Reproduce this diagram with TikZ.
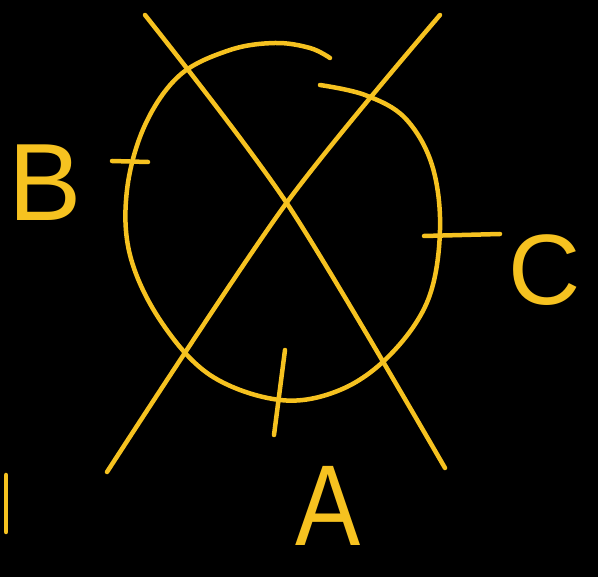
\documentclass[tikz,border=0pt]{standalone}
\usepackage{fontspec}
\setmainfont{Liberation Sans}
\definecolor{ink}{RGB}{246,194,32}
\begin{document}
\begin{tikzpicture}[x=1pt,y=-1pt,
  stroke/.style={draw=ink,line width=4.5pt,line cap=round,line join=round},
  letter/.style={text=ink,inner sep=0pt,font=\fontsize{#1}{#1}\selectfont}]
\fill[black] (0,0) rectangle (598,577);
\useasboundingbox (0,0) rectangle (598,577);
% circle (open near top right)
\draw[stroke] plot[smooth,tension=0.6] coordinates {
  (330,58) (310,48) (275,43) (230,50) (180,75) (145,125) (127,190) (130,255)
  (160,320) (210,375) (280,400) (340,390) (390,355) (428,300) (440,230)
  (432,165) (405,118) (365,95) (320,85)};
% crossing lines
\draw[stroke] plot[smooth] coordinates {(145,15) (288,205) (445,468)};
\draw[stroke] plot[smooth] coordinates {(440,15) (285,205) (107,472)};
% ticks
\draw[stroke] (112,161) -- (148,162);
\draw[stroke] (424,236) -- (500,234);
\draw[stroke] (285,350) -- (274,435);
% left stroke
\draw[stroke] (6,475) -- (6,532);
% labels
\node[letter=110] (B) at (45,183) {B};
\node[letter=100] (C) at (545,270) {C};
\node[letter=115,xscale=0.85] (A) at (328,506) {A};
\end{tikzpicture}
\end{document}
